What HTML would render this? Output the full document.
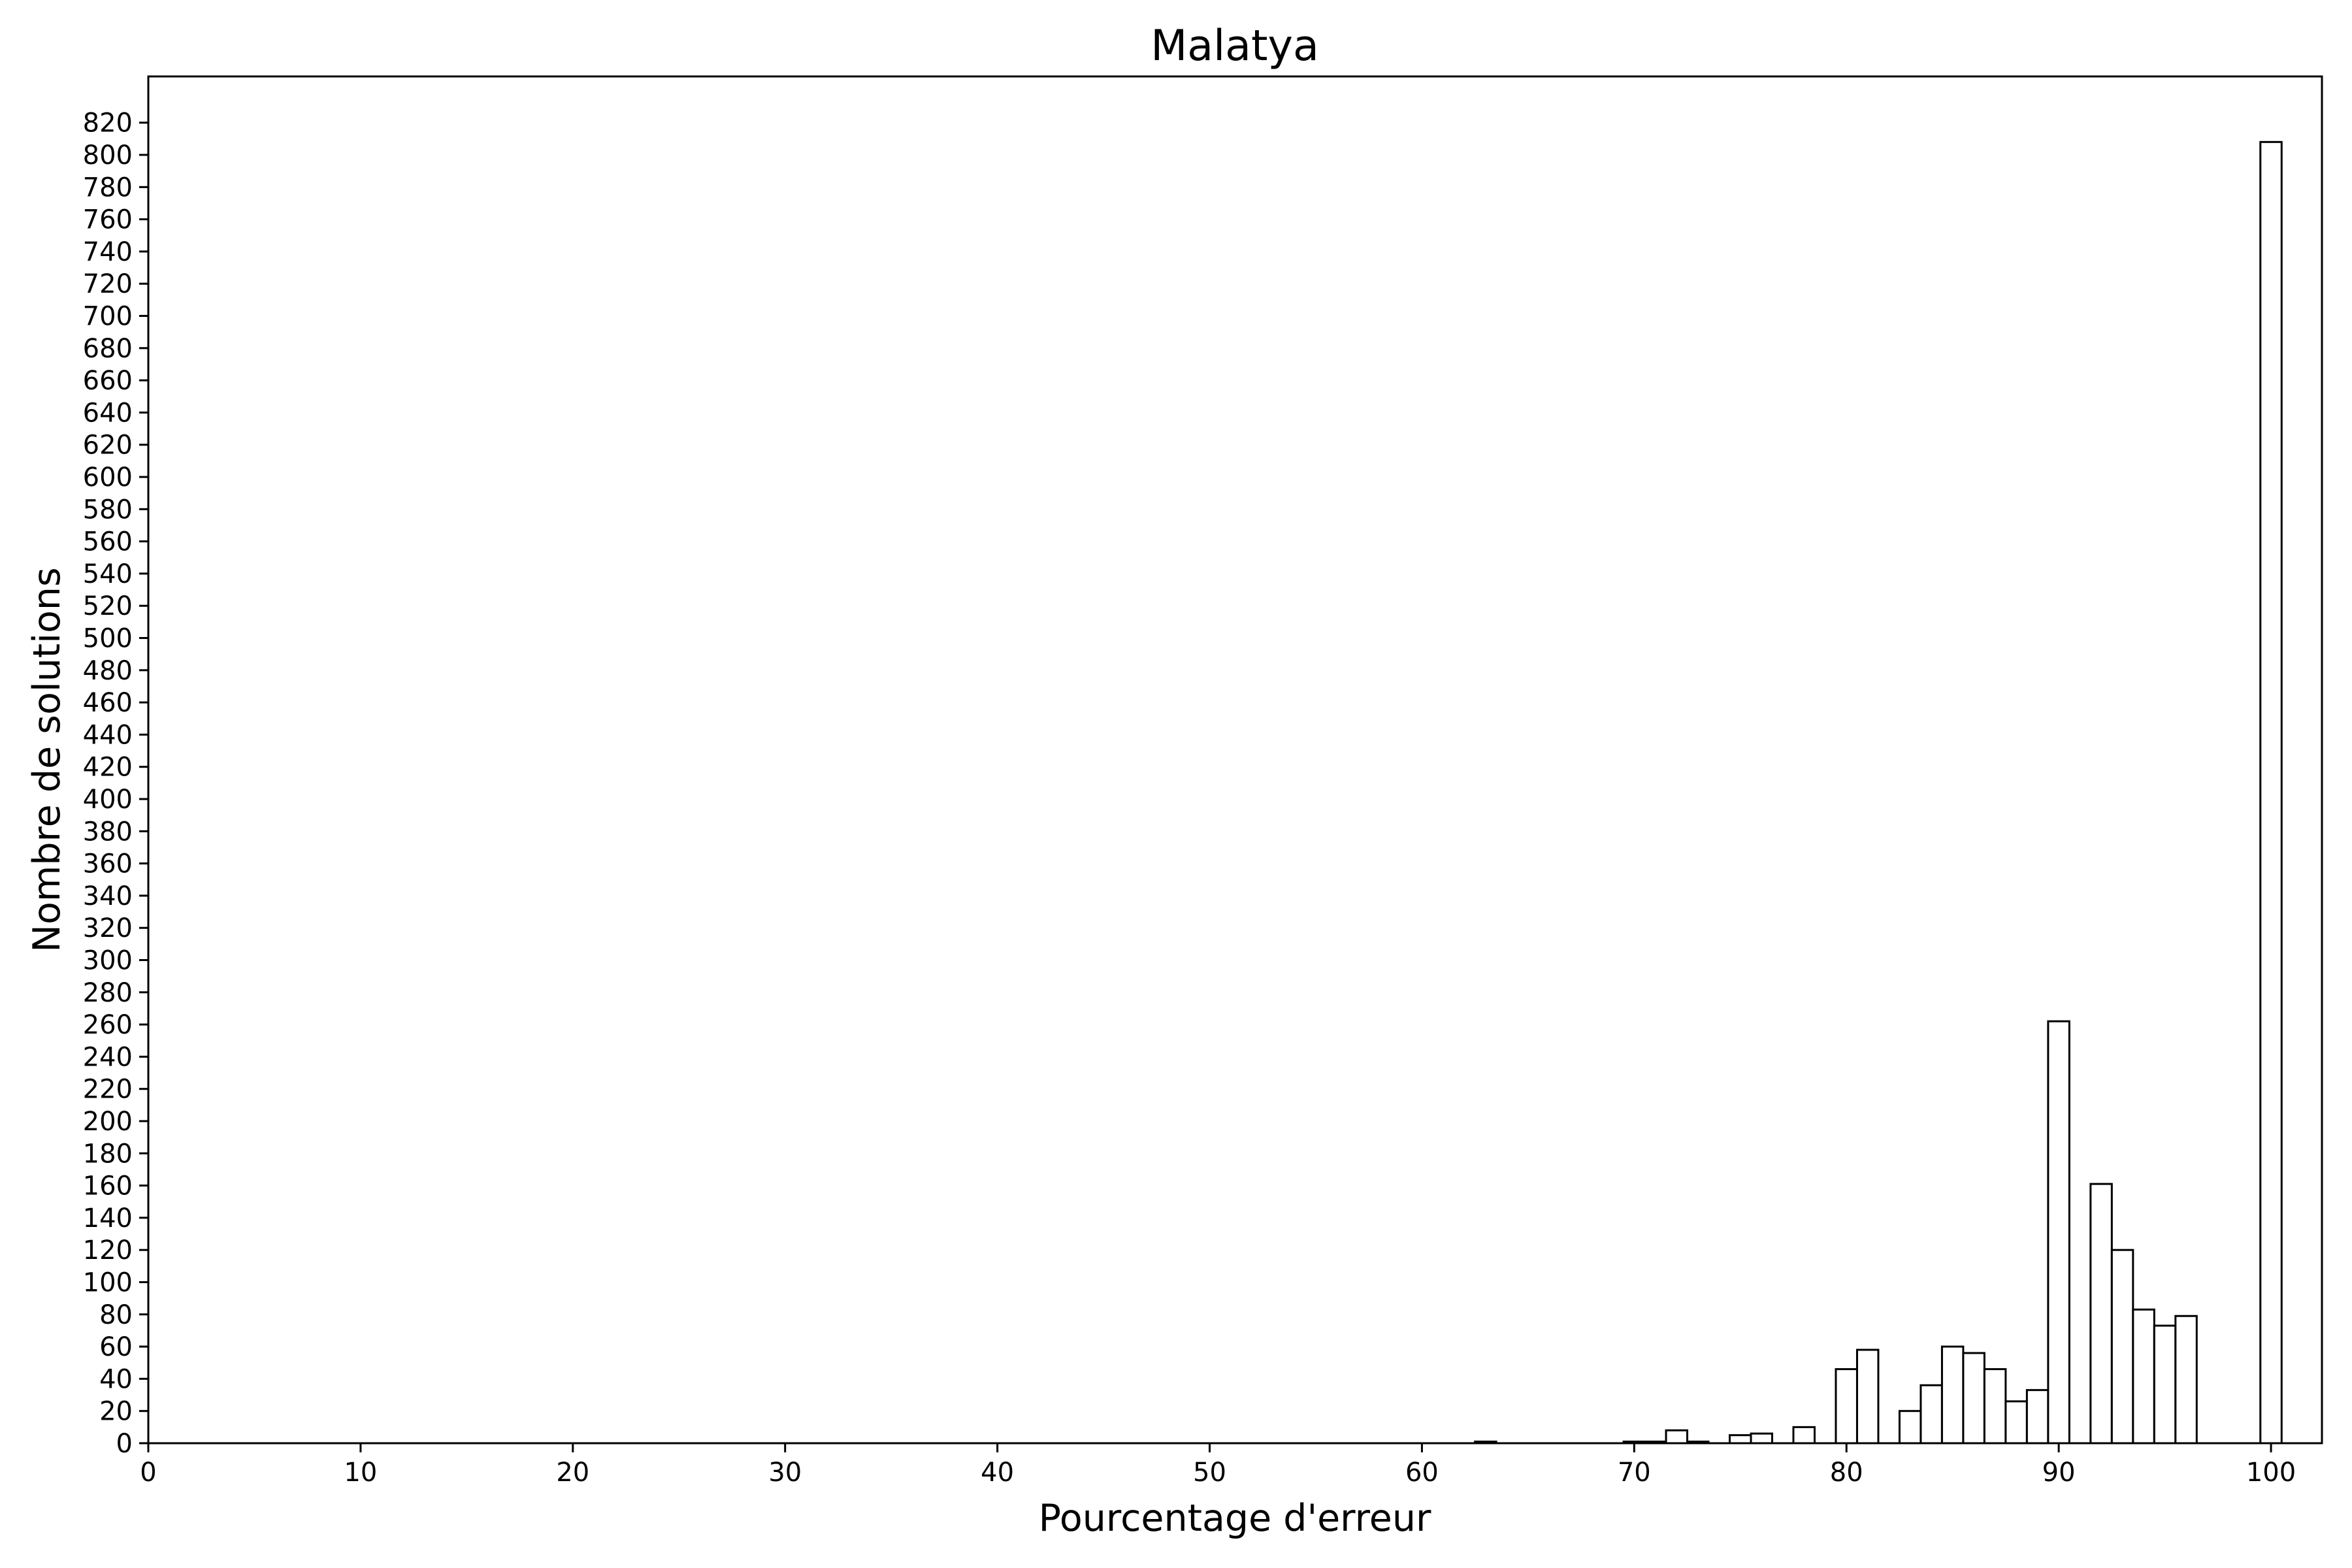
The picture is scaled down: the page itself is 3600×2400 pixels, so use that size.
<!DOCTYPE html>
<html><head><meta charset="utf-8"><style>
html,body{margin:0;padding:0;background:#fff}
svg{display:block}
text{font-family:"DejaVu Sans","Liberation Sans",sans-serif;fill:#000}
</style></head><body>
<svg id="chart" width="3600" height="2400" viewBox="0 0 3600 2400" xmlns="http://www.w3.org/2000/svg">
<rect width="3600" height="2400" fill="#fff"/>
<text x="1890" y="92" font-size="65" text-anchor="middle">Malatya</text>
<text x="1890" y="2343" font-size="57" text-anchor="middle">Pourcentage d'erreur</text>
<text transform="translate(91,1163) rotate(-90)" font-size="57" text-anchor="middle">Nombre de solutions</text>
<g id="bars"></g>
<g id="axes"></g>
</svg>
<script>
const categories = [63,70,71,72,73,75,76,78,80,81,83,84,85,86,87,88,89,90,92,93,94,95,96,100];
const counts =     [1, 1, 1, 8, 1, 5, 6, 10,46,58,20,36,60,56,46,26,33,262,161,120,83,73,79,808];
const xTickValues = [0,10,20,30,40,50,60,70,80,90,100];
const yTickValues = [];
for (let v = 0; v <= 820; v += 20) yTickValues.push(v);

const L=227, R=3554, T=117, B=2209;
const xMin=0, xMax=102.4, yMin=0, yMax=848.7;
const xS = v => L + (v-xMin)/(xMax-xMin)*(R-L);
const yS = v => B - (v-yMin)/(yMax-yMin)*(B-T);
const NS="http://www.w3.org/2000/svg";
const bars=document.getElementById('bars'), axes=document.getElementById('axes');

categories.forEach((c,i)=>{
  const r=document.createElementNS(NS,'rect');
  const x0=xS(c-0.5), x1=xS(c+0.5), y=yS(counts[i]);
  r.setAttribute('x',x0); r.setAttribute('y',y);
  r.setAttribute('width',x1-x0); r.setAttribute('height',B-y);
  r.setAttribute('fill','#fff'); r.setAttribute('stroke','#000'); r.setAttribute('stroke-width','3');
  
  
  bars.appendChild(r);
});

const frame=document.createElementNS(NS,'rect');
frame.setAttribute('x',L); frame.setAttribute('y',T);
frame.setAttribute('width',R-L); frame.setAttribute('height',B-T);
frame.setAttribute('fill','none'); frame.setAttribute('stroke','#000'); frame.setAttribute('stroke-width','3');


axes.appendChild(frame);

xTickValues.forEach(v=>{
  const x=xS(v);
  const l=document.createElementNS(NS,'line');
  l.setAttribute('x1',x); l.setAttribute('x2',x); l.setAttribute('y1',B); l.setAttribute('y2',B+14);
  l.setAttribute('stroke','#000'); l.setAttribute('stroke-width','3');
  
  
  axes.appendChild(l);
  const t=document.createElementNS(NS,'text');
  t.setAttribute('x',x); t.setAttribute('y',B+58); t.setAttribute('font-size','40'); t.setAttribute('text-anchor','middle');
  t.textContent=v;
  
  
  axes.appendChild(t);
});
yTickValues.forEach(v=>{
  const y=yS(v);
  const l=document.createElementNS(NS,'line');
  l.setAttribute('x1',L-14); l.setAttribute('x2',L); l.setAttribute('y1',y); l.setAttribute('y2',y);
  l.setAttribute('stroke','#000'); l.setAttribute('stroke-width','3');
  
  
  axes.appendChild(l);
  const t=document.createElementNS(NS,'text');
  t.setAttribute('x',L-24); t.setAttribute('y',y+14); t.setAttribute('font-size','40'); t.setAttribute('text-anchor','end');
  t.textContent=v;
  
  
  axes.appendChild(t);
});
</script>
</body></html>
